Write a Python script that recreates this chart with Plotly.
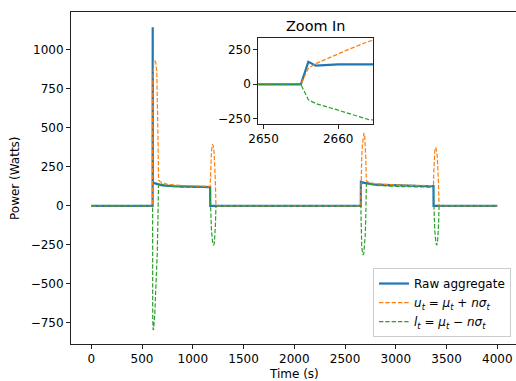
import plotly.graph_objects as go

# Raw aggregate power (W): vertices in time (s)
t_raw = [0, 604, 605, 606, 620, 650, 700, 800, 1000, 1171, 1172,
         2655, 2656, 2657, 2658, 2659, 2660, 2661, 2662, 2663, 2664,
         2680, 2720, 2800, 3000, 3200, 3371, 3372, 4000]
p_raw = [0, 0, 1145, 150, 146, 140, 132, 127, 124, 121, 0,
         0, 163, 135, 139, 142, 144, 145, 147, 148, 151,
         150, 145, 136, 130, 128, 127, 0, 0]

# Upper band u_t = mu_t + n*sigma_t
t_up = [0, 604, 605, 608, 615, 625, 635, 645, 652, 658, 663, 680, 750, 900, 1171,
        1173, 1177, 1184, 1193, 1202, 1210, 1216, 1221, 1225, 1228,
        2655, 2656, 2657, 2658, 2659, 2660, 2661, 2662, 2663, 2664,
        2670, 2678, 2686, 2693, 2699, 2704, 2708, 2711, 2730, 2800, 3000, 3371,
        3373, 3377, 3384, 3392, 3400, 3408, 3414, 3419, 3423, 3426, 4000]
p_up = [0, 0, 780, 880, 925, 935, 920, 860, 700, 400, 165, 155, 138, 130, 125,
        200, 290, 350, 395, 385, 340, 275, 180, 80, 0,
        0, 116, 150, 175, 198, 222, 244, 266, 288, 310,
        390, 445, 468, 450, 400, 310, 200, 160, 153, 142, 134, 130,
        200, 290, 355, 375, 360, 320, 260, 170, 70, 0, 0]

# Lower band l_t = mu_t - n*sigma_t
t_lo = [0, 604, 605, 609, 614, 625, 640, 650, 657, 662, 680, 750, 900, 1171,
        1173, 1177, 1184, 1194, 1204, 1212, 1218, 1223, 1227, 1229,
        2655, 2656, 2657, 2658, 2659, 2660, 2661, 2662, 2663, 2664,
        2670, 2677, 2685, 2692, 2698, 2703, 2707, 2710, 2730, 2800, 3000, 3371,
        3373, 3377, 3384, 3393, 3402, 3410, 3416, 3421, 3425, 3427, 4000]
p_lo = [0, 0, -700, -795, -790, -700, -500, -300, -60, 140, 142, 128, 121, 118,
        40, -70, -160, -225, -252, -240, -200, -120, -20, 0,
        0, -112, -140, -158, -172, -188, -205, -222, -238, -255,
        -290, -315, -302, -262, -195, -105, 20, 140, 143, 132, 125, 120,
        40, -70, -160, -225, -252, -240, -200, -120, -20, 0, 0]

x_ticks = [0, 500, 1000, 1500, 2000, 2500, 3000, 3500, 4000]
y_ticks = [-750, -500, -250, 0, 250, 500, 750, 1000]
zoom_x_ticks = [2650, 2660]
zoom_y_ticks = [-250, 0, 250]

BLUE, ORANGE, GREEN = "#1f77b4", "#ff7f0e", "#2ca02c"
FONT = "DejaVu Sans"
DASH = "4.4px,1.9px"

fig = go.Figure()

series = [
    (t_raw, p_raw, BLUE, 2.2, "solid", "Raw aggregate"),
    (t_up, p_up, ORANGE, 1.2, DASH,
     "<i>u<sub>t</sub></i> = <i>μ<sub>t</sub></i> + <i>nσ<sub>t</sub></i>"),
    (t_lo, p_lo, GREEN, 1.2, DASH,
     "<i>l<sub>t</sub></i> = <i>μ<sub>t</sub></i> − <i>nσ<sub>t</sub></i>"),
]

for xs, ys, col, w, dash, name in series:
    fig.add_trace(go.Scatter(x=xs, y=ys, mode="lines", name=name,
                             line=dict(color=col, width=w, dash=dash),
                             xaxis="x", yaxis="y"))

# Zoomed view around the second switch-on event
for xs, ys, col, w, dash, name in series:
    fig.add_trace(go.Scatter(x=xs, y=ys, mode="lines", showlegend=False,
                             line=dict(color=col, width=w, dash=dash),
                             xaxis="x2", yaxis="y2"))

axis_common = dict(showgrid=False, zeroline=False, showline=True,
                   linecolor="#222", linewidth=1, ticks="outside",
                   ticklen=4, tickwidth=1, tickcolor="#222",
                   tickfont=dict(family=FONT, size=12, color="black"))

inset_x = [0.4209, 0.6793]
inset_y = [0.6627, 0.9226]

fig.update_layout(
    width=516, height=381,
    margin=dict(l=71, r=0, t=12, b=37),
    paper_bgcolor="white", plot_bgcolor="white",
    font=dict(family=FONT, size=12, color="black"),
    xaxis=dict(domain=[0, 1], range=[-200, 4184], tickvals=x_ticks,
               mirror=True, anchor="y", **axis_common),
    yaxis=dict(domain=[0, 1], range=[-885, 1243], tickvals=y_ticks,
               mirror=False, anchor="x", **axis_common),
    xaxis2=dict(domain=inset_x, range=[2649.3, 2664.7], tickvals=zoom_x_ticks,
                mirror=True, anchor="y2", **axis_common),
    yaxis2=dict(domain=inset_y, range=[-288, 338], tickvals=zoom_y_ticks,
                mirror=True, anchor="x2", **axis_common),
    legend=dict(x=0.9888, y=0.021, xanchor="right", yanchor="bottom",
                bgcolor="rgba(255,255,255,0.85)", bordercolor="#cccccc",
                borderwidth=1, font=dict(family=FONT, size=12),
                tracegroupgap=0),
    showlegend=True,
    annotations=[
        dict(text="Power (Watts)", xref="paper", yref="paper",
             x=-0.1258, y=0.5, xanchor="center", yanchor="middle",
             textangle=-90, showarrow=False,
             font=dict(family=FONT, size=12)),
        dict(text="Time (s)", xref="paper", yref="paper",
             x=0.5018, y=-0.0904, xanchor="center", yanchor="middle",
             showarrow=False, font=dict(family=FONT, size=12)),
        dict(text="Zoom In", xref="paper", yref="paper",
             x=(inset_x[0] + inset_x[1]) / 2, y=inset_y[1],
             xanchor="center", yanchor="bottom", yshift=2,
             showarrow=False, font=dict(family=FONT, size=14.4)),
    ],
)

fig.write_html("out.html")
